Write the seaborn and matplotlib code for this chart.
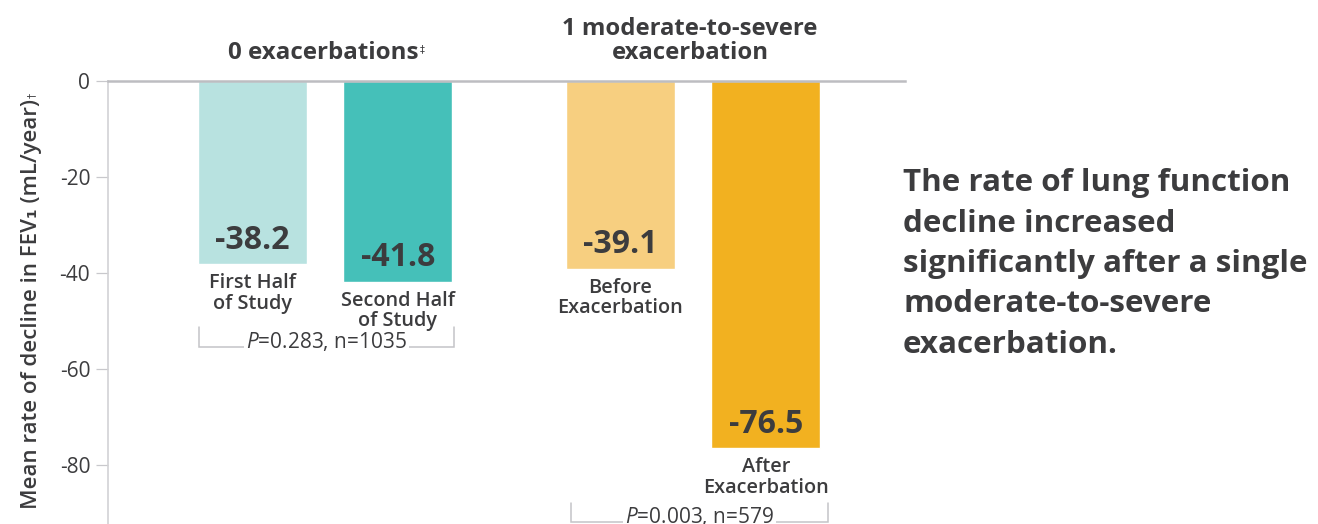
import matplotlib
matplotlib.use("Agg")
import matplotlib.pyplot as plt
import seaborn as sns
import pandas as pd

# Data
categories = ["First Half\nof Study", "Second Half\nof Study",
              "Before\nExacerbation", "After\nExacerbation"]
groups = ["0 exacerbations", "0 exacerbations",
          "1 moderate-to-severe\nexacerbation", "1 moderate-to-severe\nexacerbation"]
values = [-38.2, -41.8, -39.1, -76.5]
colors = ["#B8E2E0", "#45C0B9", "#F7CF80", "#F2B120"]
yticks = [0, -20, -40, -60, -80]
pvalue_labels = ["=0.283, n=1035", "=0.003, n=579"]
headline = ("The rate of lung function\ndecline increased\nsignificantly after a single\n"
            "moderate-to-severe\nexacerbation.")
ylabel = "Mean rate of decline in FEV\u2081 (mL/year)"

# Layout (horizontal positions on a pixel-like axis)
group_centers = [325.0, 693.0]
half_gap = 72.75
positions = [group_centers[0] - half_gap, group_centers[0] + half_gap,
             group_centers[1] - half_gap, group_centers[1] + half_gap]
bar_frac = 109 / 145.5

TEXT = "#3C3C3E"
FONT = ["Open Sans", "DejaVu Sans"]

sns.set_theme(style="white")
plt.rcParams["font.family"] = FONT
plt.rcParams["mathtext.fontset"] = "custom"
plt.rcParams["mathtext.it"] = "Open Sans:italic"
plt.rcParams["mathtext.rm"] = "Open Sans"

fig = plt.figure(figsize=(13.18, 5.24), dpi=100)
ax = fig.add_axes([108 / 1318, 0, 797 / 1318, 443 / 524])

df = pd.DataFrame({"pos": positions, "value": values, "cat": categories})
sns.barplot(data=df, x="pos", y="value", hue="cat", palette=colors,
            native_scale=True, width=bar_frac, dodge=False, legend=False,
            saturation=1, ax=ax)

ax.set_xlim(108, 905)
ax.set_ylim(-443 / 4.8, 0)
ax.set_xticks([])
ax.set_yticks(yticks)
ax.set_yticklabels([str(t) for t in yticks])
ax.set_xlabel("")
ax.set_ylabel("")
ax.tick_params(axis="y", length=8.5, width=0.9, color="#C8C8CC",
               labelsize=15, labelcolor=TEXT, pad=4.3, left=True)

for side in ["right", "bottom"]:
    ax.spines[side].set_visible(False)
ax.spines["top"].set_visible(True)
ax.spines["top"].set_color("#BDBDC1")
ax.spines["top"].set_linewidth(1.8)
ax.spines["left"].set_color("#D2D2D5")
ax.spines["left"].set_linewidth(1.2)

# Value and category labels
for x, v, c in zip(positions, values, categories):
    ax.text(x, v + 5.0, f"{v:.1f}", ha="center", va="center",
            fontsize=23, fontweight="bold", color=TEXT)
    ax.text(x, v - 1.9, c, ha="center", va="top", fontsize=14.3,
            fontweight="semibold", color=TEXT, linespacing=1.02)

# Comparison brackets
brackets = [
    (199, 454, -51.2, -55.4, pvalue_labels[0]),
    (571, 828, -87.9, -91.9, pvalue_labels[1]),
]
for x0, x1, ytop, ybot, lab in brackets:
    ax.plot([x0, x0, x1, x1], [ytop, ybot, ybot, ytop], color="#C4C4C8",
            lw=1.1, clip_on=False, solid_joinstyle="miter")
    ax.text((x0 + x1) / 2, ybot + 1.2, "$P$" + lab, ha="center", va="center",
            fontsize=15, color=TEXT, clip_on=False,
            bbox=dict(facecolor="white", edgecolor="none", pad=1.5))

# Group headers
h0 = ax.text(group_centers[0] - 2, 5.8, "0 exacerbations", ha="center", va="center",
             fontsize=17.4, fontweight="bold", color=TEXT, clip_on=False)
ax.annotate("\u2021", xy=(1, 1), xycoords=h0, xytext=(1, -2), textcoords="offset points",
            ha="left", va="top", fontsize=7, color=TEXT, family=["DejaVu Sans"])
ax.text(group_centers[1] - 3, 8.3, groups[2], ha="center", va="center",
        fontsize=17.2, fontweight="bold", color=TEXT, clip_on=False, linespacing=1.0)

# Y axis label
yl = fig.text(32 / 1318, 1 - 304 / 524, ylabel, rotation=90, ha="center", va="center",
              fontsize=16, fontweight="semibold", color=TEXT)
ax.annotate("\u2020", xy=(1, 1), xycoords=yl, xytext=(-4, 1), textcoords="offset points",
            ha="right", va="bottom", fontsize=7.5, color=TEXT, rotation=90,
            family=["DejaVu Sans"])

# Headline message
fig.text(903 / 1318, 1 - 264 / 524, headline, ha="left", va="center",
         fontsize=22.6, fontweight="bold", color=TEXT, linespacing=1.45)

fig.savefig("out.png", dpi=100)
